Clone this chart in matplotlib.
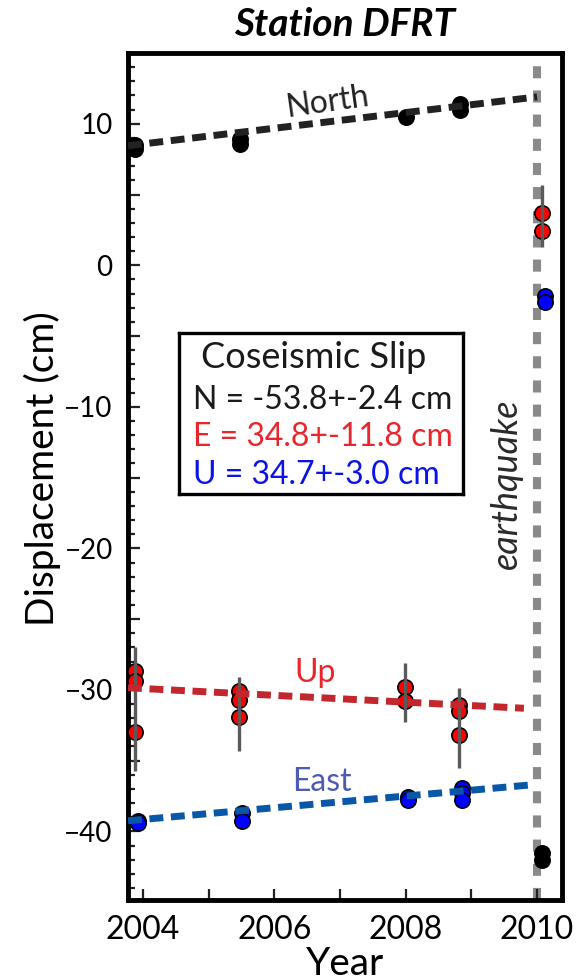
import matplotlib
matplotlib.use("Agg")
import matplotlib.pyplot as plt
from matplotlib.ticker import MultipleLocator, FuncFormatter

plt.rcParams['font.family'] = ['Lato', 'DejaVu Sans']

# ---- data ----
north_t = [2003.87, 2003.87, 2005.47, 2005.47, 2008.00, 2008.82, 2008.82]
north_y = [8.2, 8.5, 8.6, 8.9, 10.5, 11.0, 11.4]
north_post_t = [2010.08, 2010.08]
north_post_y = [-41.5, -42.0]

up_t = [2003.87, 2003.87, 2003.87, 2005.46, 2005.46, 2005.46, 2007.99, 2007.99, 2008.81, 2008.81, 2008.81]
up_y = [-28.7, -29.4, -33.0, -30.1, -30.7, -31.9, -29.8, -30.8, -31.1, -31.5, -33.2]
up_post_t = [2010.08, 2010.08]
up_post_y = [3.7, 2.4]
# error-bar extents per epoch
up_bar_t = [2003.87, 2005.46, 2007.99, 2008.81, 2010.08]
up_bar_lo = [-35.7, -34.3, -32.3, -35.5, 1.3]
up_bar_hi = [-27.0, -29.1, -28.1, -29.9, 5.7]

east_t = [2003.92, 2003.92, 2005.50, 2005.50, 2008.03, 2008.03, 2008.86, 2008.86, 2008.86]
east_y = [-39.3, -39.4, -38.7, -39.3, -37.6, -37.8, -36.9, -37.3, -37.8]
east_post_t = [2010.12, 2010.12]
east_post_y = [-2.2, -2.6]

# linear trends (start / end)
north_fit_t = [2003.77, 2010.0]
north_fit_y = [8.45, 11.9]
up_fit_t = [2003.77, 2009.80]
up_fit_y = [-29.85, -31.3]
east_fit_t = [2003.77, 2009.94]
east_fit_y = [-39.25, -36.7]

quake_t = 2010.0

xticks = [2004, 2006, 2008, 2010]
yticks = [10, 0, -10, -20, -30, -40]

slip_title = "Coseismic Slip"
slip_lines = ["N = -53.8+-2.4 cm", "E = 34.8+-11.8 cm", "U = 34.7+-3.0 cm"]
slip_colors = ["#1a1a1a", "#e8262b", "#0a14e6"]

# ---- figure ----
fig = plt.figure(figsize=(5.85, 9.8), dpi=100)
ax = fig.add_axes([0.2188, 0.0816, 0.7419, 0.8643])

ax.set_xlim(2003.77, 2010.38)
ax.set_ylim(-44.85, 15.0)

# earthquake line
ax.axvline(quake_t, color="#8a8a8a", lw=5.8, dashes=(1.5, 1.5), zorder=1)

mk = dict(marker='o', ms=11, mec='black', mew=1.2, ls='none', zorder=3)
ax.plot(north_t, north_y, mfc='black', **mk)
ax.plot(north_post_t, north_post_y, mfc='black', **mk)
ax.plot(up_t, up_y, mfc='#ff0000', **mk)
ax.plot(up_post_t, up_post_y, mfc='#ff0000', **mk)
ax.plot(east_t, east_y, mfc='#0000ff', **mk)
ax.plot(east_post_t, east_post_y, mfc='#0000ff', **mk)

ax.vlines(up_bar_t, up_bar_lo, up_bar_hi, color='#5a5a5a', lw=2.4, zorder=4)

ax.plot(north_fit_t, north_fit_y, color='#222222', lw=5.0, dashes=(2.0, 1.1), zorder=5)
ax.plot(up_fit_t, up_fit_y, color='#c1272d', lw=5.0, dashes=(2.0, 1.1), zorder=5)
ax.plot(east_fit_t, east_fit_y, color='#0857a8', lw=5.0, dashes=(2.0, 1.1), zorder=5)

ax.text(2006.80, 11.55, "North", color='#222222', fontsize=23, rotation=8,
        ha='center', va='center')
ax.text(2006.62, -28.8, "Up", color='#e8262b', fontsize=23, ha='center', va='center')
ax.text(2006.72, -36.5, "East", color='#4f5bb0', fontsize=23, ha='center', va='center')
ax.text(2009.53, -15.45, "earthquake", color='#2a2a2a', fontsize=26, style='italic',
        rotation=90, ha='center', va='center')

# coseismic slip box
box_ax = fig.add_axes([179/585, 1-494/980, (463-179)/585, (494-333)/980])
box_ax.set_xticks([]); box_ax.set_yticks([])
for s in box_ax.spines.values():
    s.set_linewidth(2.4)
box_ax.text(0.475, 0.845, slip_title, color='#1a1a1a', fontsize=26,
            ha='center', va='center', transform=box_ax.transAxes)
for i, (t, c) in enumerate(zip(slip_lines, slip_colors)):
    box_ax.text(0.05, 0.584 - i * 0.233, t, color=c, fontsize=23,
                ha='left', va='center', transform=box_ax.transAxes)

# axes styling
for s in ax.spines.values():
    s.set_linewidth(3.5)
ax.xaxis.set_major_locator(MultipleLocator(1))
ax.xaxis.set_major_formatter(FuncFormatter(lambda v, p: f"{int(round(v))}" if int(round(v)) in xticks else ""))
ax.yaxis.set_major_locator(MultipleLocator(5))
ax.yaxis.set_minor_locator(MultipleLocator(1))
ax.yaxis.set_major_formatter(FuncFormatter(
    lambda v, p: (f"{int(round(v))}".replace("-", "\u2212")) if int(round(v)) in yticks else ""))
ax.tick_params(axis='both', which='both', direction='in', top=False, right=False,
               width=1.6, color='#222222')
ax.tick_params(axis='x', which='major', length=8, pad=11, labelsize=23)
ax.tick_params(axis='y', which='major', length=8.5, pad=11, labelsize=20)
ax.tick_params(axis='y', which='minor', length=5)

ax.set_xlabel("Year", fontsize=28, va='top')
ax.xaxis.set_label_coords(0.5, -0.054)
ax.set_ylabel("Displacement (cm)", fontsize=28, va='center')
ax.yaxis.set_label_coords(-0.198, 0.509)
ax.set_title("Station DFRT", fontsize=28, fontweight='bold', style='italic', pad=12)

fig.savefig("out.png", dpi=100)
